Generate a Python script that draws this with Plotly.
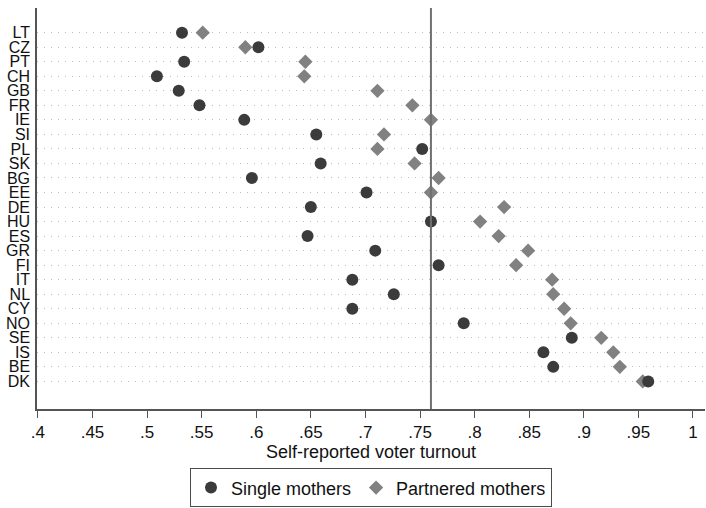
import plotly.graph_objects as go

countries = ["LT", "CZ", "PT", "CH", "GB", "FR", "IE", "SI", "PL", "SK", "BG", "EE", "DE",
             "HU", "ES", "GR", "FI", "IT", "NL", "CY", "NO", "SE", "IS", "BE", "DK"]
single_mothers = [0.532, 0.602, 0.534, 0.509, 0.529, 0.548, 0.589, 0.655, 0.752, 0.659, 0.596,
                  0.701, 0.650, 0.760, 0.647, 0.709, 0.767, 0.688, 0.726, 0.688, 0.790, 0.889,
                  0.863, 0.872, 0.959]
partnered_mothers = [0.551, 0.590, 0.645, 0.644, 0.711, 0.743, 0.760, 0.717, 0.711, 0.745, 0.767,
                     0.760, 0.827, 0.805, 0.822, 0.849, 0.838, 0.871, 0.872, 0.882, 0.888, 0.916,
                     0.927, 0.933, 0.954]
x_tick_vals = [0.4, 0.45, 0.5, 0.55, 0.6, 0.65, 0.7, 0.75, 0.8, 0.85, 0.9, 0.95, 1.0]
x_tick_text = [".4", ".45", ".5", ".55", ".6", ".65", ".7", ".75", ".8", ".85", ".9", ".95", "1"]
reference_line = 0.76

rows = list(range(len(countries)))

fig = go.Figure()
fig.add_trace(go.Scatter(
    x=partnered_mothers, y=rows, mode="markers", name="Partnered mothers",
    marker=dict(symbol="diamond", size=11, color="#818181"), legendrank=2))
fig.add_trace(go.Scatter(
    x=single_mothers, y=rows, mode="markers", name="Single mothers",
    marker=dict(symbol="circle", size=12, color="#3b3b3b"), legendrank=1))

fig.add_vline(x=reference_line, line=dict(color="#707070", width=2))

font_family = "Liberation Sans, Arial, sans-serif"
fig.update_layout(
    width=706, height=508,
    margin=dict(l=37, r=1, t=8, b=95),
    paper_bgcolor="white", plot_bgcolor="white",
    font=dict(family=font_family, color="#111111", size=16),
    showlegend=True,
    legend=dict(orientation="h", x=0.5, xanchor="center", y=-0.148, yanchor="top",
                bordercolor="#4a4a4a", borderwidth=1, font=dict(size=18),
                itemwidth=30, tracegroupgap=0),
    xaxis=dict(range=[0.3992, 1.011], tickvals=x_tick_vals, ticktext=x_tick_text,
               showgrid=False, zeroline=False, showline=True, linecolor="#555555",
               linewidth=1.5, ticks="outside", ticklen=7, tickcolor="#555555",
               tickfont=dict(size=17),
               title=dict(text="Self-reported voter turnout", font=dict(size=18), standoff=0)),
    yaxis=dict(range=[25.9, -1.7], tickvals=rows, ticktext=countries,
               showgrid=True, gridcolor="#bdbdbd", griddash="1px,6px", gridwidth=1.2,
               zeroline=False, showline=True, linecolor="#555555", linewidth=1.5,
               ticks="", ticklabelstandoff=2, tickfont=dict(size=16)),
)

fig.write_html("out.html")
